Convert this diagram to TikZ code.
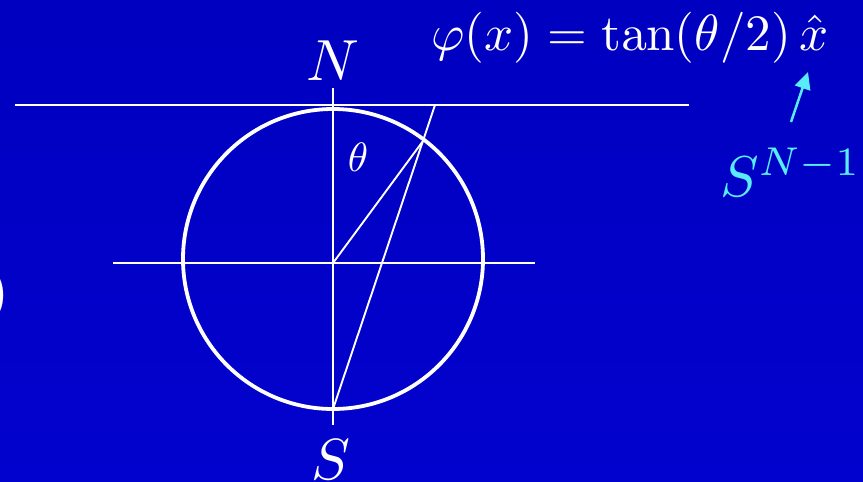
\documentclass[tikz,border=0pt]{standalone}
\usepackage{amsmath}
\usepackage{tikz}
\usetikzlibrary{arrows.meta}
\definecolor{slidetop}{RGB}{0,0,192}
\definecolor{slidebot}{RGB}{2,2,206}
\definecolor{slidecyan}{RGB}{88,236,250}

\begin{document}
\begin{tikzpicture}[x=1pt,y=-1pt,
  thinline/.style={white,line width=1.9pt},
  lbl/.style={white,inner sep=0pt}]
\useasboundingbox (0,0) rectangle (863,482);
\shade[top color=slidetop,bottom color=slidebot] (0,0) rectangle (863,482);
% points of the projection
\coordinate (O) at (333,259);
\coordinate (C) at (333,263);
\coordinate (S) at (333,409);
\coordinate (P) at (423,141);
\coordinate (Q) at (435,105);
\draw[thinline] (15,105) -- (689,105);
\draw[thinline] (113,263) -- (535,263);
\draw[thinline] (333,88) -- (333,425);
\draw[white,line width=3.8pt] (O) circle (150);
\draw[thinline] (C) -- (P);
\draw[thinline] (S) -- (Q);
% labels
\node[lbl,anchor=base,scale=5.8] (north) at (333,80) {$N$};
\node[lbl,anchor=base,scale=5.8] (south) at (331,479) {$S$};
\node[lbl,anchor=base,scale=4.1] (theta) at (358,171) {$\theta$};
\node[lbl,scale=5.1] (phi) at (630,38) {$\varphi(x) = \tan(\theta/2)\,\hat{x}$};
\node[lbl,text=slidecyan,anchor=base west,scale=5.75] (sphere) at (719,196) {$S^{N-1}$};
\coordinate (arrtail) at (791,122);
\coordinate (arrtip) at (808,72);
\draw[slidecyan,line width=2.5pt,-{Triangle[length=17pt,width=16pt]}] (arrtail) -- (arrtip);
\begin{scope}
\clip (0,0) rectangle (863,482);
\node[lbl,anchor=east,scale=5.6] (paren) at (10,295) {)};
\end{scope}
\end{tikzpicture}
\end{document}
